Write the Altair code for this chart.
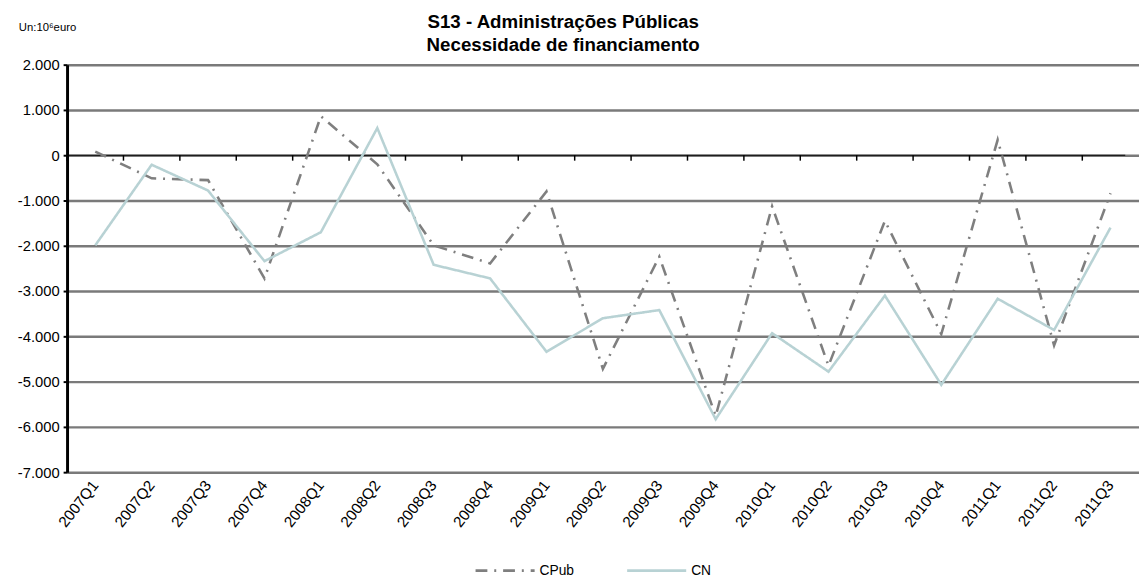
import altair as alt
import pandas as pd

quarters = ["2007Q1", "2007Q2", "2007Q3", "2007Q4", "2008Q1", "2008Q2", "2008Q3", "2008Q4",
            "2009Q1", "2009Q2", "2009Q3", "2009Q4", "2010Q1", "2010Q2", "2010Q3", "2010Q4",
            "2011Q1", "2011Q2", "2011Q3"]
cpub = [80, -510, -550, -2720, 860, -200, -1990, -2390, -800, -4720, -2240, -5760,
        -1130, -4650, -1450, -3950, 340, -4200, -840]
cn = [-1990, -210, -780, -2340, -1700, 600, -2420, -2720, -4340, -3600, -3420, -5830,
      -3930, -4780, -3100, -5070, -3170, -3860, -1600]
series = ["CPub", "CN"]
y_ticks = [2000, 1000, 0, -1000, -2000, -3000, -4000, -5000, -6000, -7000]
title_lines = ["S13 - Administrações  Públicas", "Necessidade de financiamento"]
unit_label = "Un:10⁶euro"

rows = []
for q, a, b in zip(quarters, cpub, cn):
    rows.append({"q": q, "s": "CPub", "v": a})
    rows.append({"q": q, "s": "CN", "v": b})
df = pd.DataFrame(rows)
qdf = pd.DataFrame({"q": quarters})
one = pd.DataFrame({"k": [0]})

FONT = "Liberation Sans"
W = 1075
H = 414
STEP = 57.3

xscale = alt.Scale(domain=quarters, range=[0, STEP * len(quarters)], paddingInner=0, paddingOuter=0)
yscale = alt.Scale(domain=[-7000, 2000], nice=False)
xaxis = alt.Axis(title=None, labelAngle=-52, ticks=False, domain=False, grid=False,
                 labelFont=FONT, labelFontSize=15.5, labelColor="#000000",
                 labelAlign="right", labelBaseline="middle", labelPadding=10)

lines = alt.Chart(df).mark_line(strokeWidth=2.6, clip=False).encode(
    x=alt.X("q:N", scale=xscale, sort=quarters, axis=xaxis),
    y=alt.Y("v:Q", scale=yscale,
            axis=alt.Axis(title=None, values=y_ticks, grid=True, gridColor="#7a7a7a",
                          gridWidth=2.5, domainColor="#000000", domainWidth=3,
                          tickColor="#000000", tickSize=4, tickWidth=2,
                          labelFont=FONT, labelFontSize=15, labelColor="#000000",
                          labelPadding=4,
                          labelExpr="(datum.value < 0 ? '-' : '') + replace(format(abs(datum.value), ','), ',', '.')")),
    color=alt.Color("s:N", scale=alt.Scale(domain=series, range=["#7f7f7f", "#b8d2d4"]),
                    legend=alt.Legend(title=None, orient="none", direction="horizontal",
                                      legendX=436, legendY=505,
                                      symbolType="M-4,0H4", symbolSize=225, symbolStrokeWidth=3,
                                      labelFont=FONT, labelFontSize=14, labelColor="#000000",
                                      labelOffset=26, columnPadding=47)),
    strokeDash=alt.StrokeDash("s:N", scale=alt.Scale(domain=series, range=[[12, 7, 2, 7], [1, 0]]),
                              legend=None),
    order=alt.Order("q:N"),
)

zero = alt.Chart(one).mark_rule(color="#000000", strokeWidth=1.2).encode(
    x=alt.value(0), x2=alt.value(W), y=alt.datum(0)
)

ticks = alt.Chart(qdf).mark_rule(color="#000000", strokeWidth=1.5).encode(
    x=alt.X("q:N", scale=xscale, sort=quarters, bandPosition=0, axis=xaxis),
    y=alt.datum(0),
    y2=alt.datum(-120),
)

title1 = alt.Chart(one).mark_text(text=title_lines[0], font=FONT, fontSize=19, fontWeight="bold",
                                  align="center", baseline="alphabetic", color="#000000").encode(
    x=alt.value(504), y=alt.value(-37)
)
title2 = alt.Chart(one).mark_text(text=title_lines[1], font=FONT, fontSize=19, fontWeight="bold",
                                  align="center", baseline="alphabetic", color="#000000").encode(
    x=alt.value(504), y=alt.value(-14)
)
unit = alt.Chart(one).mark_text(text=unit_label, font=FONT, fontSize=11.5, align="left",
                                baseline="alphabetic", color="#000000").encode(
    x=alt.value(-49), y=alt.value(-34)
)

chart = alt.layer(zero, ticks, lines, title1, title2, unit).properties(
    width=W, height=H,
    padding={"left": 9, "top": 1, "right": 0, "bottom": 0},
).configure(background="white").configure_view(stroke=None)

chart.save("out.html", embed_options={"renderer": "svg", "actions": False})
